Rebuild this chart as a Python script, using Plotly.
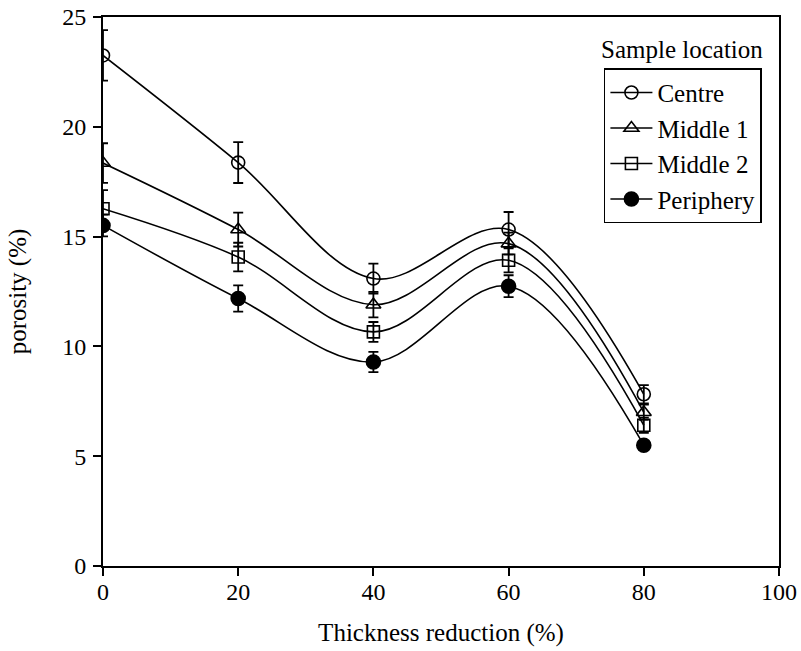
import plotly.graph_objects as go

thickness = [0, 20, 40, 60, 80]
centre = [23.25, 18.37, 13.09, 15.32, 7.82]
centre_err = [1.15, 0.93, 0.68, 0.80, 0.42]
middle1 = [18.35, 15.32, 11.90, 14.68, 7.00]
middle1_err = [0.90, 0.77, 0.58, 0.50, 0.35]
middle2 = [16.27, 14.07, 10.66, 13.92, 6.41]
middle2_err = [0.85, 0.65, 0.45, 0.55, 0.35]
periphery = [15.51, 12.18, 9.29, 12.74, 5.50]
periphery_err = [0.50, 0.60, 0.46, 0.50, 0.20]

series = [
    ("Centre", centre, centre_err, "circle-open", 13),
    ("Middle 1", middle1, middle1_err, "triangle-up-open", 13),
    ("Middle 2", middle2, middle2_err, "square-open", 12),
    ("Periphery", periphery, periphery_err, "circle", 14),
]

FONT = "Liberation Serif"
FS = 24
FT = 25

fig = go.Figure()
for name, vals, err, sym, size in series:
    fig.add_trace(go.Scatter(
        x=thickness, y=vals, name=name, mode="lines+markers",
        line=dict(color="black", width=1.6, shape="spline", smoothing=1),
        marker=dict(symbol=sym, size=size, color="black",
                    line=dict(color="black", width=1.6)),
        error_y=dict(type="data", array=err, visible=True, color="black",
                     thickness=1.8, width=5),
    ))

fig.update_layout(
    width=801, height=651,
    margin=dict(l=103, r=22, t=17, b=85, autoexpand=False),
    paper_bgcolor="white", plot_bgcolor="white",
    font=dict(family=FONT, size=FS, color="black"),
    showlegend=True,
    legend=dict(x=0.741, y=0.9066, xanchor="left", yanchor="top",
                bordercolor="black", borderwidth=1.5, bgcolor="white",
                font=dict(family=FONT, size=FT),
                itemwidth=42, tracegroupgap=0),
    annotations=[dict(text="Sample location", x=0.9796, y=0.941,
                      xref="paper", yref="paper", xanchor="right",
                      yanchor="middle", showarrow=False,
                      font=dict(family=FONT, size=FT))],
)
fig.update_xaxes(
    range=[0, 100], tickvals=[0, 20, 40, 60, 80, 100],
    ticks="outside", ticklen=8, tickwidth=1.5, tickcolor="black",
    showline=True, linecolor="black", linewidth=2, mirror=True,
    showgrid=False, zeroline=False, ticklabelstandoff=-5,
    tickfont=dict(family=FONT, size=FS),
    title=dict(text="Thickness reduction (%)", standoff=20,
               font=dict(family=FONT, size=FT)),
)
fig.update_yaxes(
    range=[0, 25], tickvals=[0, 5, 10, 15, 20, 25],
    ticks="outside", ticklen=8, tickwidth=1.5, tickcolor="black",
    showline=True, linecolor="black", linewidth=2, mirror=True,
    showgrid=False, zeroline=False, ticklabelstandoff=2,
    tickfont=dict(family=FONT, size=FS),
    title=dict(text="porosity (%)", standoff=28,
               font=dict(family=FONT, size=FT)),
)

fig.write_html("out.html")
